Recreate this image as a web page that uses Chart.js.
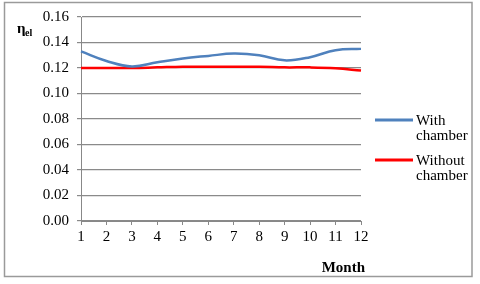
<!DOCTYPE html>
<html>
<head>
<meta charset="utf-8">
<script src="https://cdn.jsdelivr.net/npm/chart.js@4/dist/chart.umd.min.js"></script>
<style>
html,body{margin:0;padding:0;background:#fff;}
canvas{display:block;}
</style>
</head>
<body>
<canvas id="c" width="480" height="284"></canvas>
<script>
const months = ['1','2','3','4','5','6','7','8','9','10','11','12'];
const withChamber = [0.133,0.1255,0.1212,0.1245,0.1275,0.1295,0.1313,0.130,0.126,0.1285,0.134,0.135];
const withoutChamber = [0.120,0.120,0.120,0.1205,0.121,0.121,0.121,0.121,0.1205,0.1205,0.1198,0.118];
const seriesLabels = [['With','chamber'],['Without','chamber']];
const yTicks = [0,0.02,0.04,0.06,0.08,0.10,0.12,0.14,0.16];
const xTitle = 'Month';

const SERIF = "'Liberation Serif', 'Times New Roman', serif";

const decor = {
  id: 'decor',
  afterDraw(chart) {
    const ctx = chart.ctx;
    ctx.save();
    // outer frame
    ctx.strokeStyle = '#9a9a9a';
    ctx.lineWidth = 1.5;
    ctx.strokeRect(4.5, 2.5, 467.5, 274);
    // y label eta_el
    ctx.fillStyle = '#000';
    ctx.textBaseline = 'alphabetic';
    ctx.textAlign = 'left';
    ctx.font = 'bold 15px ' + SERIF;
    ctx.fillText('\u03b7', 17, 33);
    ctx.font = 'bold 10px ' + SERIF;
    ctx.fillText('el', 25, 36);
    // x title
    ctx.font = 'bold 15px ' + SERIF;
    ctx.textAlign = 'right';
    ctx.fillText(xTitle, 365, 272);
    // legend
    const ys = [120, 160];
    chart.data.datasets.forEach((ds, i) => {
      const y = ys[i];
      ctx.strokeStyle = ds.borderColor;
      ctx.lineWidth = 3;
      ctx.beginPath();
      ctx.moveTo(375, y);
      ctx.lineTo(413, y);
      ctx.stroke();
      ctx.fillStyle = '#000';
      ctx.textAlign = 'left';
      ctx.textBaseline = 'middle';
      ctx.font = '15px ' + SERIF;
      const lines = Array.isArray(ds.label) ? ds.label : [ds.label];
      lines.forEach((t, k) => ctx.fillText(t, 416, y + 1 + k * 15));
    });
    ctx.restore();
  }
};

new Chart(document.getElementById('c'), {
  type: 'line',
  data: {
    labels: months,
    datasets: [
      { label: seriesLabels[0], data: withChamber, borderColor: '#4f81bd', borderWidth: 2.5, pointRadius: 0, tension: 0.4, fill: false },
      { label: seriesLabels[1], data: withoutChamber, borderColor: '#ff0000', borderWidth: 2.5, pointRadius: 0, tension: 0.4, fill: false }
    ]
  },
  options: {
    responsive: false,
    animation: false,
    layout: { padding: { left: 0, right: 119, top: 17, bottom: 0 } },
    plugins: { legend: { display: false }, tooltip: { enabled: false } },
    scales: {
      x: {
        type: 'category',
        offset: false,
        grid: { display: true, drawOnChartArea: false, color: '#888', tickLength: 4 },
        border: { color: '#888', width: 1 },
        ticks: { color: '#000', font: { family: SERIF, size: 15 }, padding: 3, autoSkip: false, maxRotation: 0 },
        afterFit(s) { s.height = 63; }
      },
      y: {
        min: 0, max: 0.16,
        afterBuildTicks(s) { s.ticks = yTicks.map(v => ({ value: v })); },
        grid: { color: '#8a8a8a', tickLength: 4, lineWidth: 1.2 },
        border: { color: '#888', width: 1 },
        ticks: { color: '#000', font: { family: SERIF, size: 15 }, padding: 8, callback: v => Number(v).toFixed(2) },
        afterFit(s) { s.width = 81; }
      }
    }
  },
  plugins: [decor]
});
</script>
</body>
</html>
